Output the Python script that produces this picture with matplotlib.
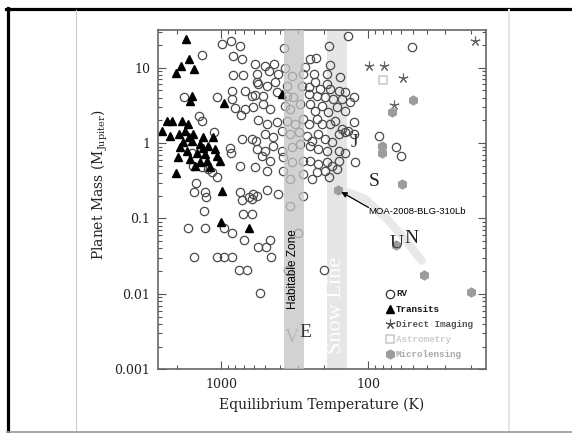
import matplotlib
matplotlib.use("Agg")
import matplotlib.pyplot as plt
from matplotlib.lines import Line2D
from matplotlib.ticker import LogLocator, NullFormatter

# ---- data ----
rv_temp = [1352, 990, 855, 743, 833, 723, 825, 713, 688, 838, 838, 619, 573, 803, 688, 566,
           723, 619, 580, 588, 869, 860, 743, 1116, 1352, 1404, 1069, 1780, 1580, 1542, 1352,
           1220, 1157, 1069, 737, 1475,
           592, 503, 438, 368, 269, 249, 227, 182, 572, 470, 409, 331, 276, 236, 192, 156,
           558, 490, 430, 588, 359, 284, 255, 230, 213, 182, 159, 192, 517, 419, 359, 323,
           255, 224, 197, 173, 144, 151, 607, 517, 465, 368, 340, 291, 249, 230, 208, 187,
           163, 144, 133, 490, 419, 359, 315, 276, 255, 224, 208, 182, 168, 151, 137, 126,
           503, 442, 388, 340, 298, 262, 242, 219, 197, 177, 159, 144, 126, 572, 503, 442,
           388, 331, 291, 249, 219, 192, 159, 144, 531, 465, 378, 331, 276, 249, 219, 192,
           177, 159, 490, 378, 340, 276, 242, 224, 197, 163, 186,
           372, 185, 138, 50.7, 85, 65.5, 60.5, 124, 126,
           1540, 1290, 1270, 743, 646, 604, 572, 490, 409, 276, 723, 620, 713, 620, 1304,
           1682, 1284, 954, 846, 698, 465, 558, 495, 458, 1517, 1069, 950, 846, 755, 663,
           544, 340, 350, 300, 200]
rv_mass = [14.6, 20.9, 22.6, 19.1, 14.3, 13.0, 7.95, 7.95, 4.93, 4.93, 3.9, 4.23, 6.5, 2.88, 2.82, 2.02,
           1.13, 1.13, 1.05, 0.48, 0.85, 0.74, 0.50, 1.39, 1.97, 2.26, 4.03, 4.03, 0.75, 0.50, 0.48,
           0.45, 0.41, 0.35, 2.38, 0.30,
           11.1, 10.6, 11.3, 10.0, 10.2, 13.0, 13.6, 10.8, 8.2, 9.06, 8.2, 7.8, 8.2, 8.2, 8.2, 7.43,
           6.0, 5.8, 6.4, 4.36, 5.8, 5.8, 5.5, 6.4, 5.2, 5.2, 4.93, 6.0, 4.23, 4.7, 4.23, 4.03,
           4.5, 4.23, 4.03, 3.83, 4.7, 3.83, 2.97, 3.29, 2.82, 3.12, 2.82, 3.29, 3.29, 2.68, 3.12, 2.55,
           2.97, 2.68, 3.46, 1.79, 1.88, 1.97, 1.79, 2.08, 1.79, 2.08, 1.79, 1.79, 1.97, 1.53, 1.45, 1.88,
           1.32, 1.19, 1.45, 1.32, 1.39, 1.25, 1.07, 1.32, 1.13, 1.02, 1.32, 1.39, 1.32, 0.83, 0.79, 0.92,
           0.79, 0.88, 0.97, 0.92, 0.83, 0.79, 0.79, 0.75, 0.68, 0.58, 0.65, 0.555, 0.58, 0.58, 0.53, 0.555,
           0.50, 0.58, 0.43, 0.43, 0.33, 0.39, 0.33, 0.41, 0.43, 0.45, 0.36,
           18.5, 19.4, 26.4, 18.9, 1.25, 0.877, 0.68, 0.555, 4.03,
           0.227, 0.227, 0.19, 0.227, 0.19, 0.21, 0.20, 0.24, 0.21, 0.20, 0.177, 0.18, 0.115, 0.115, 0.127,
           0.074, 0.074, 0.074, 0.064, 0.0525, 0.0525, 0.0418, 0.0418, 0.031, 0.031, 0.031, 0.031, 0.031, 0.0208, 0.0208,
           0.0103, 0.145, 0.0208, 0.064, 0.0208]

tr_temp = [1736, 1641, 1877, 2029, 1525, 1623, 1580, 950, 2314, 2140, 2516, 2220, 1848, 1667,
           1918, 1756, 1542, 1319, 1128, 1803, 1580, 1389, 1220, 1899, 1710, 1462, 1284, 1099,
           1069, 1623, 1389, 1250, 1016, 1502, 1188, 2029, 980, 1000, 646, 387, 1650, 1330, 1950]
tr_mass = [23.8, 12.96, 10.6, 8.4, 9.55, 3.57, 4.23, 3.39, 1.94, 1.94, 1.43, 1.25, 1.97, 1.79,
           1.32, 1.45, 1.32, 1.19, 1.19, 1.02, 1.07, 0.97, 0.92, 0.88, 0.79, 0.75, 0.71, 0.83,
           0.68, 0.61, 0.555, 0.58, 0.58, 0.50, 0.48, 0.40, 0.233, 0.089, 0.075, 4.46, 1.2, 0.85, 0.65]

di_temp = [98.9, 78.2, 58.4, 66.9, 18.8]
di_mass = [10.6, 10.6, 7.26, 3.19, 22.6]

as_temp = [79.1]
as_mass = [6.83]

ml_temp = [159.8, 68.7, 49.5, 81.1, 81.5, 59.3, 42.1, 20.2, 65.0]
ml_mass = [0.24, 2.60, 3.75, 0.92, 0.75, 0.284, 0.018, 0.0107, 0.045]

moa_track_temp = [160, 149, 105, 74.8, 56.4, 43.6]
moa_track_mass = [0.24, 0.235, 0.18, 0.098, 0.053, 0.0276]

solar_names = ['V', 'E', 'J', 'S', 'U', 'N']
solar_temp = [330, 270, 124.5, 91.5, 64.1, 50.7]
solar_mass = [0.00261, 0.0031, 1.02, 0.307, 0.046, 0.0535]
solar_color = ['#8a8a8a', '#333333', '#333333', '#222222', '#333333', '#222222']

habitable = (373, 273)
snow_line = (190, 140)

legend_labels = ['RV', 'Transits', 'Direct Imaging', 'Astrometry', 'Microlensing']
legend_colors = ['#222222', '#111111', '#555555', '#cccccc', '#a8a8a8']

# ---- figure ----
W, H = 572, 433
fig = plt.figure(figsize=(W / 100, H / 100), dpi=100)
fig.patch.set_facecolor('white')

def fx(px):
    return px / W

def fy(py):
    return 1 - py / H

# outer frame of the page
fig.add_artist(Line2D([fx(6), fx(572)], [fy(8.5), fy(8.5)], color='black', lw=2.3))
fig.add_artist(Line2D([fx(7.5), fx(7.5)], [fy(7.5), fy(433)], color='black', lw=2.3))
fig.add_artist(Line2D([fx(75.5), fx(75.5)], [fy(10), fy(433)], color='#cccccc', lw=0.8))
fig.add_artist(Line2D([fx(509), fx(509)], [fy(10), fy(433)], color='#e6e6e6', lw=1.5))
fig.add_artist(Line2D([fx(7), fx(572)], [fy(432.3), fy(432.3)], color='#999999', lw=1.2))

ax = fig.add_axes([fx(158.3), fy(369.3), (485.7 - 158.3) / W, (369.3 - 30) / H])
ax.set_xscale('log')
ax.set_yscale('log')
ax.set_xlim(2670, 16)
ax.set_ylim(0.001, 31.6)

# bands
ax.axvspan(snow_line[0], snow_line[1], color='#e6e6e6', lw=0, zorder=0.5)
ax.axvspan(habitable[0], habitable[1], color='#c4c4c4', alpha=0.75, lw=0, zorder=3)

ax.plot(moa_track_temp, moa_track_mass, color='#e8e8e8', lw=6, solid_capstyle='round', zorder=0.8)

ax.plot(rv_temp, rv_mass, 'o', ms=6, mfc='none', mec='#4a4a4a', mew=0.9, zorder=2)
ax.plot(tr_temp, tr_mass, '^', ms=6.2, color='black', zorder=2.2)
ax.plot(di_temp, di_mass, marker=(5, 2, 0), ls='none', ms=7, color='#666666', mew=0.8, zorder=2)
ax.plot(as_temp, as_mass, 's', ms=5.5, mfc='none', mec='#cccccc', mew=1.2, zorder=2)
ax.plot(ml_temp, ml_mass, 'h', ms=7.5, color='#9c9c9c', mec='none', zorder=2.1)

for name, t, m, c in zip(solar_names, solar_temp, solar_mass, solar_color):
    ax.text(t, m, name, fontsize=14, family='Liberation Serif', color=c,
            ha='center', va='center', zorder=2.5 if name == 'V' else 4)

ax.text(323, 0.0211, 'Habitable Zone', rotation=90, fontsize=8.5, family='Liberation Sans',
        ha='center', va='center', zorder=5)
ax.text(164, 0.00705, 'Snow Line', rotation=90, fontsize=16, family='Liberation Serif',
        color='white', ha='center', va='center', zorder=1)

ax.annotate('', xy=(153, 0.225), xytext=(100, 0.14),
            arrowprops=dict(arrowstyle='-|>', color='black', lw=0.9, shrinkA=0, shrinkB=0,
                            mutation_scale=8), zorder=5)
ax.text(100, 0.123, 'MOA-2008-BLG-310Lb', fontsize=6.8, family='Liberation Sans',
        ha='left', va='center', zorder=5)

# legend drawn by hand
leg_y = [0.222, 0.177, 0.133, 0.089, 0.045]
leg_style = [
    dict(marker='o', ms=6, mfc='none', mec='#333333', mew=0.9),
    dict(marker='^', ms=6.2, color='black'),
    dict(marker=(5, 2, 0), ms=7, color='#555555', mew=0.8),
    dict(marker='s', ms=5.5, mfc='none', mec='#cccccc', mew=1.2),
    dict(marker='h', ms=7.5, color='#9c9c9c', mec='none'),
]
for y, lab, col, st in zip(leg_y, legend_labels, legend_colors, leg_style):
    ax.plot([0.708], [y], transform=ax.transAxes, ls='none', clip_on=False, zorder=6, **st)
    ax.text(0.726, y, lab, transform=ax.transAxes, fontsize=6.7, family='Liberation Mono',
            weight='bold', color=col, ha='left', va='center', zorder=6)

# axes styling
for s in ax.spines.values():
    s.set_color('#666666')
    s.set_linewidth(1.2)

ax.set_xticks([1000, 100], labels=['1000', '100'])
ax.set_yticks([0.001, 0.01, 0.1, 1, 10], labels=['0.001', '0.01', '0.1', '1', '10'])
ax.xaxis.set_minor_locator(LogLocator(base=10, subs=range(2, 10), numticks=20))
ax.yaxis.set_minor_locator(LogLocator(base=10, subs=range(2, 10), numticks=20))
ax.xaxis.set_minor_formatter(NullFormatter())
ax.yaxis.set_minor_formatter(NullFormatter())
ax.tick_params(which='both', direction='in', top=True, right=True, color='#555555', width=0.8)
ax.tick_params(which='major', length=6, pad=6, labelsize=9, labelcolor='#222222')
ax.tick_params(which='minor', length=3)
for lab in ax.get_xticklabels() + ax.get_yticklabels():
    lab.set_family('DejaVu Serif')

ax.set_xlabel('Equilibrium Temperature (K)', family='DejaVu Serif', fontsize=10, color='#222222')
ax.set_ylabel(r'Planet Mass (M$_{\mathregular{Jupiter}}$)', family='DejaVu Serif', fontsize=10,
              color='#222222')
ax.xaxis.set_label_coords(0.498, -0.105)
ax.xaxis.label.set_va('center')
ax.yaxis.set_label_coords(-0.178, 0.543)
ax.yaxis.label.set_va('center')

fig.savefig('out.png', dpi=100)
